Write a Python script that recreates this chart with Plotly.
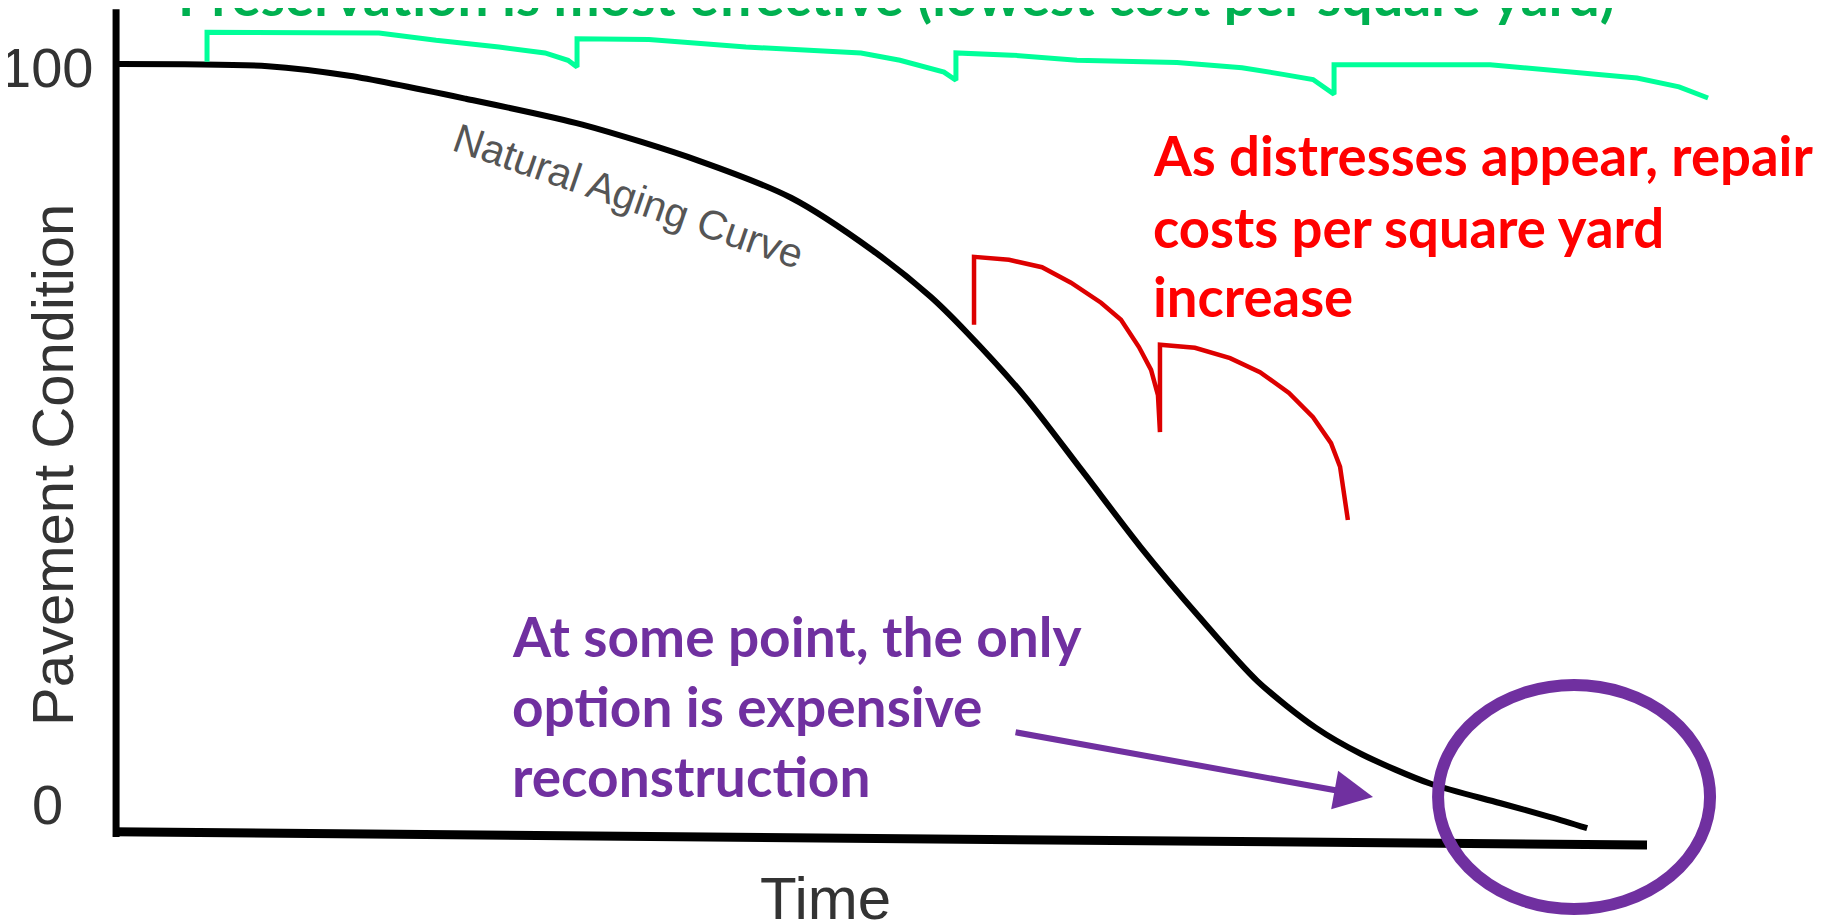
import plotly.graph_objects as go

# ---------------- data (time %, pavement condition %) ----------------
aging_time = [0.2, 10.1, 15.4, 23.0, 30.6, 38.2, 44.2, 49.5, 53.3, 55.6, 59.4,
              63.2, 67.0, 70.8, 74.6, 78.4, 81.4, 85.9, 90.4, 93.7, 96.1]
aging_cond = [100.0, 99.7, 98.4, 95.3, 91.8, 86.9, 81.9, 74.8, 68.5, 63.8, 55.1,
              44.9, 34.6, 25.2, 16.5, 10.2, 6.6, 2.6, 0.0, -1.9, -3.4]

preservation_time = [6.13, 6.13, 17.34, 21.06, 25.16, 28.16, 29.66, 30.25,
                     30.25, 34.94, 41.26, 48.76, 51.30, 54.17, 54.95,
                     54.95, 58.6, 62.84, 69.36, 73.6, 76.27, 78.23, 79.6,
                     79.6, 89.77, 95.5, 99.35, 102.09, 103.98]
preservation_cond = [100.3, 104.3, 104.2, 103.2, 102.3, 101.5, 100.5, 99.6,
                     103.4, 103.3, 102.3, 101.5, 100.5, 98.9, 97.8,
                     101.5, 101.2, 100.5, 100.2, 99.5, 98.6, 97.9, 95.9,
                     99.9, 99.9, 98.9, 98.1, 96.9, 95.4]

repair_time = [56.13, 56.13, 58.41, 60.56, 62.45, 64.41, 65.71, 66.88, 67.67,
               68.12, 68.25, 68.25, 70.53, 72.82, 74.77, 76.66, 78.23, 79.4,
               79.99, 80.5]
repair_cond = [64.7, 73.9, 73.5, 72.5, 70.4, 67.7, 65.4, 61.7, 58.6,
               55.2, 50.2, 62.0, 61.6, 60.2, 58.3, 55.5, 52.2, 48.7,
               45.5, 38.3]

y_tick_values = [100, 0]
y_tick_labels = ["100", "0"]

# arrow (tail -> head) and highlighted region (reconstruction zone)
arrow_time = [58.74, 82.14]
arrow_cond = [9.61, 0.81]
zone_time = [86.38, 104.11]
zone_cond = [-14.34, 15.97]

title_text = "Preservation is most effective (lowest cost per square yard)"
red_lines = ["As distresses appear, repair", "costs per square yard", "increase"]
purple_lines = ["At some point, the only", "option is expensive", "reconstruction"]

# ---------------- canvas geometry ----------------
PAGE_OFF = 8                      # default body margin of the html page
W, H = 1825 - PAGE_OFF, 921 - PAGE_OFF
X0_PX, X_SCALE = 113.0, 15.34     # page pixel of time 0, pixels per time unit
Y0_PX, Y_SCALE = 803.0, 7.39      # page pixel of condition 0, pixels per unit


def px(x):
    return (x - PAGE_OFF) / W


def py(y):
    return 1 - (y - PAGE_OFF) / H


GREEN_TEXT = "#00B050"
GREEN_LINE = "#00FF99"
RED_TEXT = "#FF0000"
RED_LINE = "#DD0000"
PURPLE = "#7030A0"
TXT_FONT = "Lato, 'Noto Sans', sans-serif"
AX_FONT = "'Liberation Sans', Arial, sans-serif"

fig = go.Figure()

fig.add_trace(go.Scatter(x=aging_time, y=aging_cond, mode="lines",
                         line=dict(color="#000000", width=6, shape="spline", smoothing=0.8),
                         hoverinfo="skip"))
fig.add_trace(go.Scatter(x=preservation_time, y=preservation_cond, mode="lines",
                         line=dict(color=GREEN_LINE, width=5),
                         hoverinfo="skip"))
fig.add_trace(go.Scatter(x=repair_time, y=repair_cond, mode="lines",
                         line=dict(color=RED_LINE, width=4.5),
                         hoverinfo="skip"))

shapes = [
    # y axis
    dict(type="line", xref="x", yref="y", x0=0.2, x1=0.2, y0=107.4, y1=-4.6,
         line=dict(color="#000000", width=7)),
    # x axis
    dict(type="line", xref="x", yref="y", x0=0.0, x1=100.0, y0=-3.9, y1=-5.7,
         line=dict(color="#000000", width=9)),
    # reconstruction zone ellipse
    dict(type="circle", xref="x", yref="y", x0=zone_time[0], x1=zone_time[1],
         y0=zone_cond[0], y1=zone_cond[1], line=dict(color=PURPLE, width=12)),
]

annotations = []

# tick labels
annotations.append(dict(x=px(95), y=py(67.9), xref="paper", yref="paper",
                        xanchor="right", yanchor="middle", showarrow=False,
                        text=y_tick_labels[0],
                        font=dict(family=AX_FONT, size=56, color="#333333")))
annotations.append(dict(x=px(65), y=py(804.9), xref="paper", yref="paper",
                        xanchor="right", yanchor="middle", showarrow=False,
                        text=y_tick_labels[1],
                        font=dict(family=AX_FONT, size=56, color="#333333")))
# axis titles
annotations.append(dict(x=px(52), y=py(465), xref="paper", yref="paper",
                        xanchor="center", yanchor="middle", showarrow=False,
                        text="Pavement Condition", textangle=-90,
                        font=dict(family=AX_FONT, size=58, color="#333333")))
annotations.append(dict(x=px(825), y=py(898), xref="paper", yref="paper",
                        xanchor="center", yanchor="middle", showarrow=False,
                        text="Time",
                        font=dict(family=AX_FONT, size=60, color="#333333")))
# curve label
annotations.append(dict(x=px(628), y=py(196), xref="paper", yref="paper",
                        xanchor="center", yanchor="middle", showarrow=False,
                        text="Natural Aging Curve", textangle=19,
                        font=dict(family=AX_FONT, size=41, color="#555555")))
# title (partly cut at top)
TITLE_FS = 55
annotations.append(dict(x=px(896), y=py(16 - 0.387 * TITLE_FS), xref="paper", yref="paper",
                        xanchor="center", yanchor="middle", showarrow=False,
                        text="<b>" + title_text + "</b>",
                        font=dict(family=TXT_FONT, size=TITLE_FS, color=GREEN_TEXT)))
# red text block
RED_FS = 54.5
for line, base in zip(red_lines, [176, 248, 317]):
    annotations.append(dict(x=px(1151), y=py(base - 0.387 * RED_FS), xref="paper", yref="paper",
                            xanchor="left", yanchor="middle", showarrow=False,
                            text="<b>" + line + "</b>",
                            font=dict(family=TXT_FONT, size=RED_FS, color=RED_TEXT)))
# purple text block
PURPLE_FS = 55
for line, base in zip(purple_lines, [657, 727, 797]):
    annotations.append(dict(x=px(510), y=py(base - 0.387 * PURPLE_FS), xref="paper", yref="paper",
                            xanchor="left", yanchor="middle", showarrow=False,
                            text="<b>" + line + "</b>",
                            font=dict(family=TXT_FONT, size=PURPLE_FS, color=PURPLE)))
# arrow
annotations.append(dict(x=arrow_time[1], y=arrow_cond[1], ax=arrow_time[0], ay=arrow_cond[0],
                        xref="x", yref="y", axref="x", ayref="y", text="",
                        showarrow=True, arrowhead=2, arrowsize=1.3, arrowwidth=6,
                        arrowcolor=PURPLE, standoff=0))

fig.update_layout(
    width=W, height=H, autosize=False,
    margin=dict(l=0, r=0, t=0, b=0, pad=0),
    paper_bgcolor="white", plot_bgcolor="white",
    showlegend=False,
    xaxis=dict(visible=False, fixedrange=True,
               range=[(PAGE_OFF - X0_PX) / X_SCALE, (PAGE_OFF + W - X0_PX) / X_SCALE]),
    yaxis=dict(visible=False, fixedrange=True,
               range=[(Y0_PX - PAGE_OFF - H) / Y_SCALE, (Y0_PX - PAGE_OFF) / Y_SCALE]),
    shapes=shapes,
    annotations=annotations,
)

fig.write_html("out.html", config={"displayModeBar": False})
